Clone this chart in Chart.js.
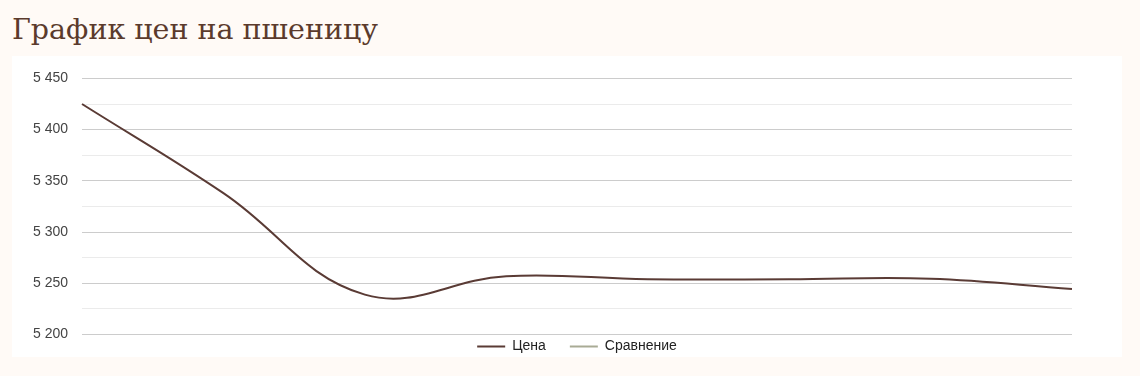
<!DOCTYPE html>
<html>
<head>
<meta charset="utf-8">
<script src="https://cdn.jsdelivr.net/npm/chart.js@4"></script>
<style>
  html, body { margin: 0; padding: 0; background: #fffaf6; }
  body { width: 1140px; height: 376px; position: relative; overflow: hidden; }
  h2 {
    position: absolute; left: 12px; top: 10px; margin: 0;
    font-family: "DejaVu Serif", serif; font-weight: normal;
    font-size: 28.5px; line-height: 40px; color: #5b3a2c;
  }
  #panel {
    position: absolute; left: 12px; top: 56px; width: 1110px; height: 301px;
    background: #ffffff;
  }
</style>
</head>
<body>
<h2>График цен на пшеницу</h2>
<div id="panel"><canvas id="priceChart"></canvas></div>
<script>
const weeks = ["1", "2", "3", "4", "5", "6", "7", "8"];
const price = [5425, 5338, 5239, 5257, 5254, 5254, 5254.5, 5244.5];
const compare = [];
const yTicks = [5200, 5250, 5300, 5350, 5400, 5450];

const fmt = (v) => String(v).replace(/\B(?=(\d{3})+(?!\d))/g, " ");

const chart = new Chart(document.getElementById("priceChart"), {
  type: "line",
  data: {
    labels: weeks,
    datasets: [
      {
        label: "Цена",
        data: price,
        borderColor: "#5a3b35",
        backgroundColor: "#5a3b35",
        borderWidth: 2,
        pointRadius: 0,
        tension: 0.4,
      },
      {
        label: "Сравнение",
        data: compare,
        borderColor: "#a9ab95",
        backgroundColor: "#a9ab95",
        borderWidth: 2,
        pointRadius: 0,
      },
    ],
  },
  options: {
    responsive: true,
    maintainAspectRatio: false,
    animation: false,
    layout: { padding: { left: 0, right: 50, top: 18, bottom: 0 } },
    plugins: {
      tooltip: { enabled: false },
      legend: {
        position: "bottom",
        maxHeight: 21,
        labels: {
          usePointStyle: true,
          pointStyle: "line",
          pointStyleWidth: 28,
          boxHeight: 2,
          padding: 24,
          color: "#222222",
          font: { family: "Liberation Sans, Arial", size: 14 },
        },
      },
    },
    scales: {
      x: { display: false },
      y: {
        min: yTicks[0],
        max: yTicks[yTicks.length - 1],
        afterFit: (scale) => { scale.width = 70; },
        border: { display: false },
        grid: {
          drawTicks: false,
          color: (ctx) => (ctx.tick.value % 50 === 0 ? "#cccccc" : "#ebebeb"),
        },
        ticks: {
          stepSize: 25,
          padding: 14,
          color: "#444444",
          font: { family: "Liberation Sans, Arial", size: 14 },
          callback: (v) => (yTicks.includes(v) ? fmt(v) : ""),
        },
      },
    },
  },
});

// legend sits centred under the plot area and closer to it than its padding allows
const legendDraw = chart.legend.draw.bind(chart.legend);
chart.legend.draw = function () {
  const area = chart.chartArea;
  const dx = (area.left + area.right) / 2 - (this.left + this.right) / 2;
  const box = { top: this.top, left: this.left, right: this.right };
  this.top -= 19;
  this.left += dx;
  this.right += dx;
  legendDraw();
  Object.assign(this, box);
};
chart.update();
</script>
</body>
</html>
